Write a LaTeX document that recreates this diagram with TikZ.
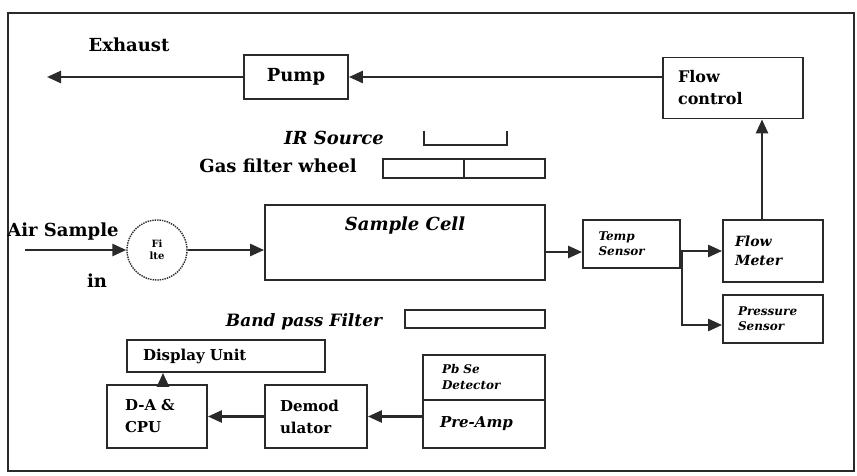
\documentclass[tikz,border=0pt]{standalone}
\usepackage{fontspec}
\setmainfont{DejaVu Serif}
\usetikzlibrary{arrows.meta}
\newcommand{\fsz}[2]{\fontsize{#1}{#2}\selectfont}
\definecolor{ink}{HTML}{2A2A2A}

\begin{document}
\begin{tikzpicture}[x=1pt,y=-1pt,>={Triangle[length=14pt,width=12pt]},
  blk/.style={draw=ink,line width=1.8pt,rectangle,inner sep=2pt,align=left},
  arr/.style={->,draw=ink,line width=2.6pt},
  lbl/.style={inner sep=0pt}]
\useasboundingbox (0,0) rectangle (857,476);
\draw[ink,line width=2.2pt] (8,13) rectangle (854,471);

% top row
\node[blk,font=\bfseries\fsz{18}{20},minimum width=104,minimum height=44] (pump) at (296,77) {Pump};
\node[blk,font=\bfseries\fsz{16}{22},minimum width=140,minimum height=61,text width=110]
  (flowctl) at (733,88) {Flow\\control};
\node[lbl,font=\bfseries\fsz{18}{20}] (exh) at (129,45) {Exhaust};
\coordinate (out) at (47,77);
\draw[arr] (flowctl.west |- pump.east) -- (pump.east);
\draw[arr] (pump.west) -- (out);

% source and wheel
\node[lbl,font=\bfseries\itshape\fsz{18}{20}] (irsrc) at (334,138) {IR Source};
\draw[ink,line width=1.4pt] (424,131) -- (424,145) -- (507,145) -- (507,131);
\node[lbl,font=\bfseries\fsz{18}{20}] (gfw) at (278,166) {Gas filter wheel};
\draw[ink,line width=1.4pt] (383,159) rectangle (545,178);
\draw[ink,line width=1.4pt] (464,159) -- (464,178);

% gas path
\node[blk,minimum width=280,minimum height=75,
  label={[lbl,font=\bfseries\itshape\fsz{18}{20},anchor=north,yshift=-13pt]north:Sample Cell}]
  (cell) at (405,242.5) {};
\node[draw=ink,line width=1.4pt,densely dotted,circle,minimum size=60,inner sep=0pt,
  align=center,font=\bfseries\fsz{10}{12}] (filt) at (157,250) {Fi\\lte};
\node[lbl,font=\bfseries\fsz{18}{20}] (air) at (63,232) {Air Sample};
\node[lbl,font=\bfseries\fsz{18}{20}] (in) at (97,281) {in};
\coordinate (inlet) at (25,250);
\draw[arr] (inlet) -- (filt.west);
\draw[arr] (filt.east) -- (filt.east -| cell.west);

\node[blk,font=\bfseries\itshape\fsz{12}{15},minimum width=97,minimum height=48,text width=66]
  (temp) at (631.5,244) {Temp\\Sensor};
\node[blk,font=\bfseries\itshape\fsz{14}{19},minimum width=100,minimum height=62,text width=76]
  (flowm) at (773,251) {Flow\\Meter};
\node[blk,font=\bfseries\itshape\fsz{12}{15},minimum width=100,minimum height=48,text width=70]
  (press) at (773,319) {Pressure\\Sensor};
\draw[arr] ([yshift=-8pt]temp.west -| cell.east) -- ([yshift=-8pt]temp.west);
\draw[arr] (temp.east |- flowm.west) -- (flowm.west);
\coordinate (br) at (682,251);
\draw[arr] (br) |- ([yshift=-6pt]press.west);
\draw[arr] ([xshift=-11pt]flowm.north) -- ([xshift=-11pt]flowm.north |- flowctl.south);

% detector side
\node[lbl,font=\bfseries\itshape\fsz{17}{20}] (bpf) at (304,322) {Band pass Filter};
\draw[ink,line width=1.4pt] (405,310) rectangle (545,328);

\node[blk,font=\bfseries\fsz{15}{18},minimum width=198,minimum height=32,text width=166]
  (disp) at (226,356) {Display Unit};
\node[blk,font=\bfseries\fsz{15}{22},minimum width=100,minimum height=63,text width=64]
  (dac) at (157,416.5) {D-A \&\\CPU};
\node[blk,font=\bfseries\fsz{15}{22},minimum width=102,minimum height=63,text width=72]
  (demod) at (316,416.5) {Demod\\ulator};
\node[blk,font=\bfseries\itshape\fsz{12}{16},minimum width=122,minimum height=45,text width=84]
  (det) at (484,377.5) {Pb Se\\Detector};
\node[blk,font=\bfseries\itshape\fsz{15}{18},minimum width=122,minimum height=48,text width=88]
  (amp) at (484,424) {Pre-Amp};
\draw[arr] (demod.east -| amp.west) -- (demod.east);
\draw[arr] (demod.west) -- (dac.east);
\draw[arr] ([xshift=6pt]dac.north) -- ([xshift=6pt]dac.north |- disp.south);
\end{tikzpicture}
\end{document}
